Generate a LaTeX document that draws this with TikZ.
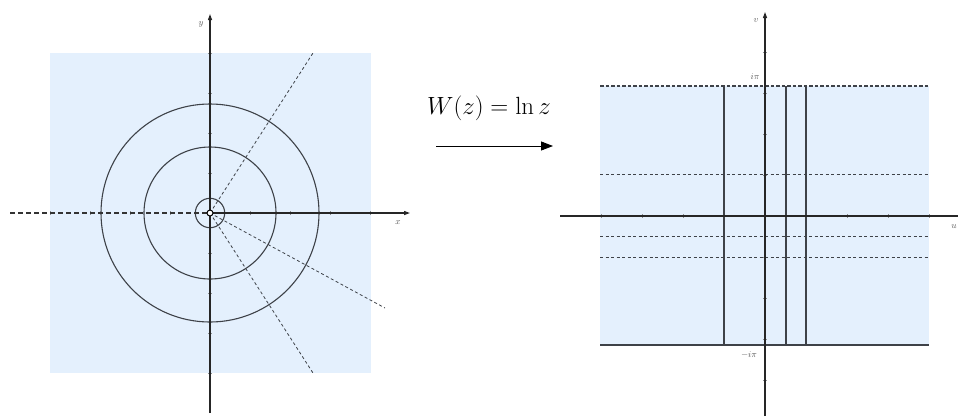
\documentclass[tikz,border=0pt]{standalone}
\usetikzlibrary{arrows.meta}
\definecolor{planeblue}{RGB}{228,240,253}
\definecolor{ink}{RGB}{62,66,72}
\tikzset{
  axisline/.style={draw=black!85, line width=1.2pt, -{Triangle[length=6pt,width=4pt]}},
  gridline/.style={draw=ink, line width=1.1pt},
  raydash/.style={draw=ink, line width=0.8pt, dash pattern=on 3pt off 2.5pt},
  cutdash/.style={draw=black!80, line width=1.4pt, dash pattern=on 5pt off 3pt},
  topdash/.style={draw=ink, line width=1.3pt, dash pattern=on 3.5pt off 2pt},
  tick/.style={draw=ink!60, line width=0.4pt},
  smalllabel/.style={font=\fontsize{9}{10}\selectfont, text=black!65, inner sep=0pt}
}
\begin{document}
\begin{tikzpicture}[x=1pt,y=-1pt]
\useasboundingbox (0,0) rectangle (958,416);
% ---------------- left plane ----------------
\coordinate (O1) at (210,213);
\fill[planeblue] (50,53) rectangle (371,373);
\foreach \k in {-4,...,4}{
  \draw[tick] (210+40*\k,211) -- (210+40*\k,215);
  \draw[tick] (208,213+40*\k) -- (212,213+40*\k);
}
% rays
\coordinate (r1) at (313,53);
\coordinate (r2) at (385,308);
\coordinate (r3) at (313,373);
\draw[raydash] (O1) -- (r1);
\draw[raydash] (O1) -- (r2);
\draw[raydash] (O1) -- (r3);
% circles
\draw[gridline] (O1) circle[radius=109];
\draw[gridline] (O1) circle[radius=66];
\draw[gridline] (O1) circle[radius=14.7];
% axes
\coordinate (ybot) at (210,413);
\coordinate (ytop) at (210,14);
\coordinate (xend) at (410,213);
\coordinate (cutend) at (10,213);
\draw[cutdash] (cutend) -- (O1);
\draw[axisline] (ybot) -- (ytop);
\draw[axisline] (O1) -- (xend);
\node[smalllabel] (ylab) at (201,24) {$y$};
\node[smalllabel] (xlab) at (398,223) {$x$};
\draw[black, line width=1pt, fill=white] (O1) circle[radius=3];
% ---------------- map arrow ----------------
\node[font=\fontsize{24}{28}\selectfont, inner sep=0pt] (map) at (489,108) {$W(z) = \ln z$};
\coordinate (a1) at (436,146);
\coordinate (a2) at (553,146);
\draw[black, line width=0.9pt, -{Triangle[length=12pt,width=9pt]}] (a1) -- (a2);
% ---------------- right plane ----------------
\coordinate (O2) at (765,216);
\fill[planeblue] (600,86) rectangle (929,345);
\foreach \k in {-4,...,4}{
  \draw[tick] (765+41*\k,214) -- (765+41*\k,218);
}
\foreach \k in {-4,...,4}{
  \draw[tick] (763,216+41*\k) -- (767,216+41*\k);
}
% vertical images of circles
\foreach \xx in {724,786,806}{
  \draw[gridline] (\xx,86) -- (\xx,345);
}
% horizontal images of rays
\draw[raydash] (600,174) -- (929,174);
\draw[raydash] (600,236) -- (929,236);
\draw[raydash] (600,257) -- (929,257);
\draw[topdash] (600,86) -- (929,86);
\draw[draw=ink, line width=1.5pt] (600,345) -- (929,345);
% axes
\coordinate (ubeg) at (560,216);
\coordinate (uend) at (966,216);
\coordinate (vbot) at (765,416);
\coordinate (vtop) at (765,12);
\draw[axisline] (ubeg) -- (uend);
\draw[axisline] (vbot) -- (vtop);
\node[smalllabel] (vlab) at (756,21) {$v$};
\node[smalllabel, anchor=east] (ulab) at (957,227) {$u$};
\node[smalllabel] (ipi) at (755,77) {$i\pi$};
\node[smalllabel] (mipi) at (749,355) {$-i\pi$};
\end{tikzpicture}
\end{document}
